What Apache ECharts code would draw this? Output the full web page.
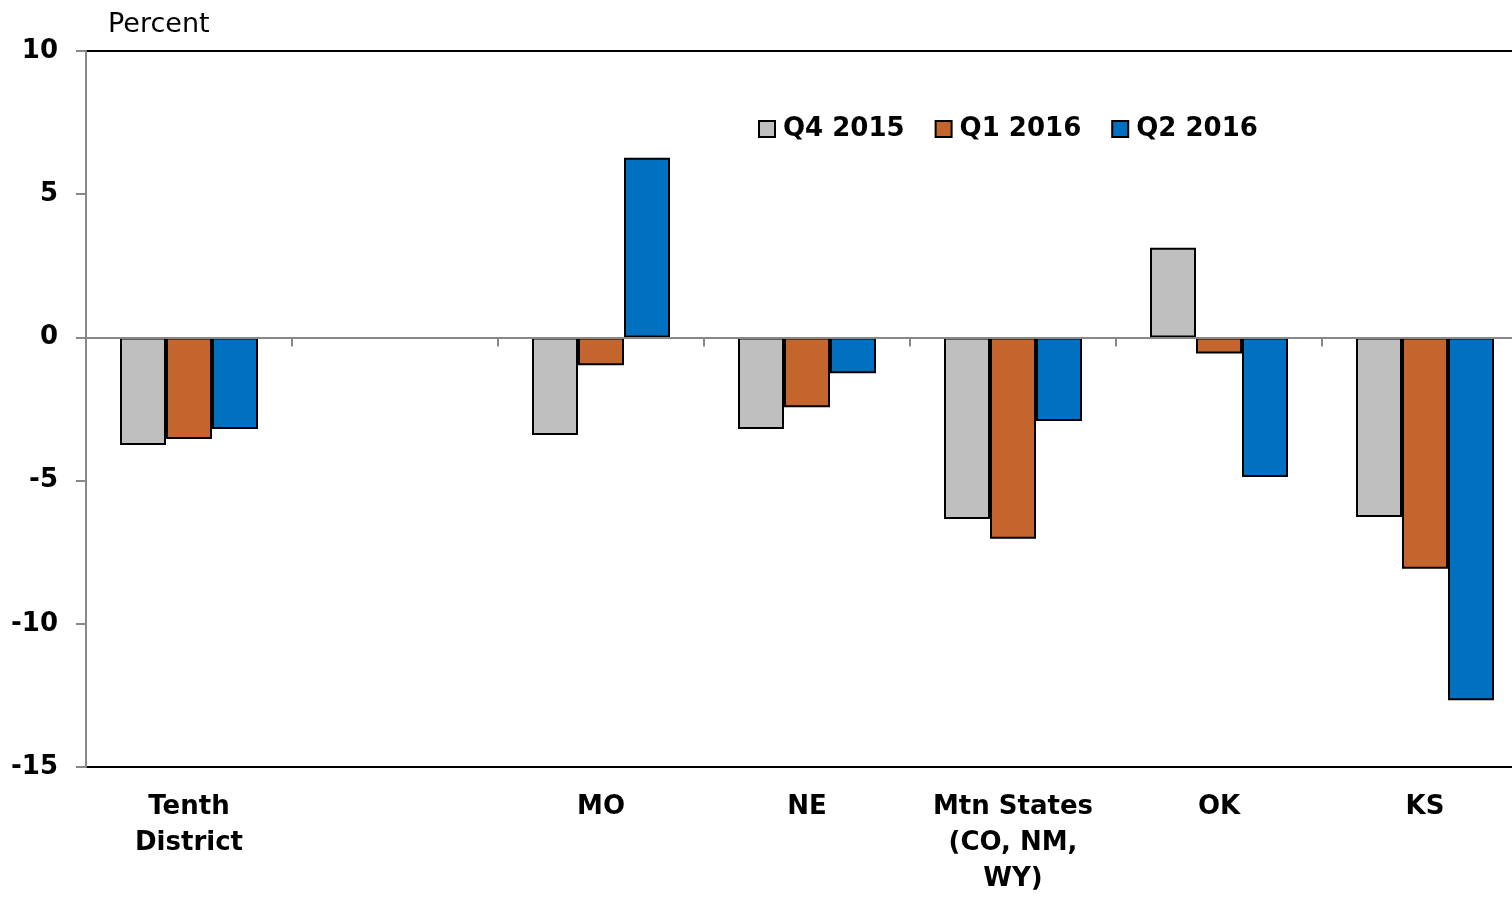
<!DOCTYPE html>
<html>
<head>
<meta charset="utf-8">
<script src="https://cdn.jsdelivr.net/npm/echarts@6/dist/echarts.min.js"></script>
<style>
  html, body { margin: 0; padding: 0; background: #fff; overflow: hidden; }
  /* plot runs a little past the right edge of the window, like the original */
  #chart { width: 1528px; height: 897px; }
</style>
</head>
<body>
<div id="chart"></div>
<script>
/**
 * data
 */
var regions = ['Tenth\nDistrict', '', 'MO', 'NE', 'Mtn States\n(CO, NM,\nWY)', 'OK', 'KS'];
var q42015 = [-3.76, null, -3.41, -3.2, -6.34, 3.13, -6.27];
var q12016 = [-3.55, null, -0.97, -2.44, -7.03, -0.56, -8.08];
var q22016 = [-3.2, null, 6.27, -1.25, -2.92, -4.87, -12.67];
var seriesNames = ['Q4 2015', 'Q1 2016', 'Q2 2016'];
var colors = ['#bfbfbf', '#c4652d', '#0070c0'];

var font = '"DejaVu Sans", sans-serif';
var chart = echarts.init(document.getElementById('chart'));

function barSeries(name, data, color){
    return {
        name: name,
        type: 'bar',
        barWidth: 46,
        barGap: '0%',
        data: data,
        itemStyle: {
            color: color,
            borderColor: '#000',
            borderWidth: 2
        }
    };
}

var option = {
    animation: false,
    backgroundColor: '#fff',
    textStyle: { fontFamily: font },
    grid: {
        left: 86,
        right: 0,
        top: 51,
        bottom: 128,
        show: true,
        borderColor: '#000',
        borderWidth: 2,
        backgroundColor: 'transparent'
    },
    legend: {
        data: seriesNames,
        left: 758,
        top: 116,
        padding: 0,
        itemWidth: 16,
        itemHeight: 16,
        itemGap: 30,
        icon: 'rect',
        textStyle: {
            fontFamily: font,
            fontSize: 26,
            fontWeight: 'bold',
            color: '#000',
            padding: [0, 0, 0, 3]
        }
    },
    xAxis: [
        {
            type: 'category',
            data: regions,
            position: 'bottom',
            axisLine: { onZero: false, lineStyle: { color: '#000', width: 2 } },
            axisTick: { show: false },
            axisLabel: {
                interval: 0,
                margin: 22,
                fontFamily: font,
                fontSize: 26,
                fontWeight: 'bold',
                color: '#000',
                lineHeight: 36
            }
        },
        {
            type: 'category',
            data: regions,
            position: 'top',
            z: 5,
            axisLine: { onZero: true, lineStyle: { color: '#888', width: 2 } },
            axisTick: { show: true, inside: true, length: 9, lineStyle: { color: '#888', width: 2 } },
            axisLabel: { show: false }
        }
    ],
    yAxis: {
        type: 'value',
        min: -15,
        max: 10,
        interval: 5,
        z: 5,
        name: 'Percent',
        nameLocation: 'end',
        nameGap: 13,
        nameTextStyle: {
            fontFamily: font,
            fontSize: 27,
            color: '#000',
            align: 'left',
            padding: [0, 0, 0, 22]
        },
        axisLine: { show: true, onZero: false, lineStyle: { color: '#888', width: 2 } },
        axisTick: { show: true, length: 10, lineStyle: { color: '#888', width: 2 } },
        splitLine: { show: false },
        axisLabel: {
            margin: 28,
            fontFamily: font,
            fontSize: 26,
            fontWeight: 'bold',
            color: '#000'
        }
    },
    series: [
        barSeries(seriesNames[0], q42015, colors[0]),
        barSeries(seriesNames[1], q12016, colors[1]),
        barSeries(seriesNames[2], q22016, colors[2])
    ]
};
chart.setOption(option);
</script>
</body>
</html>
